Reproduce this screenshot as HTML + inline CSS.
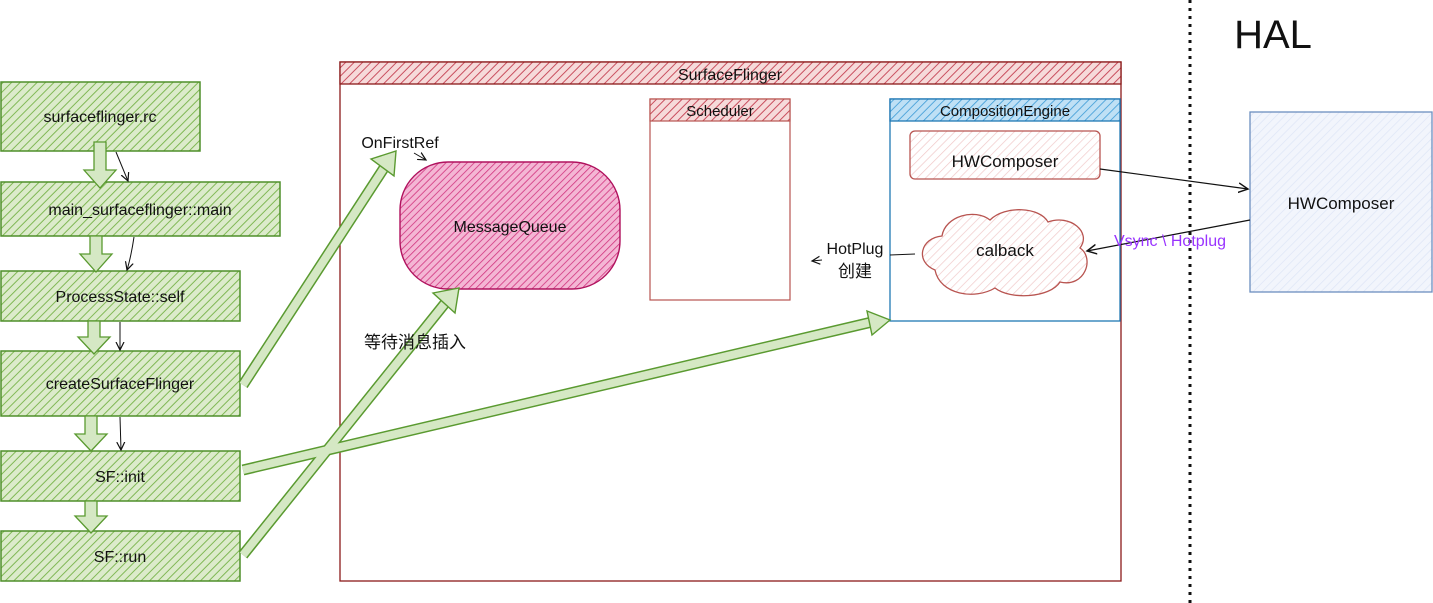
<!DOCTYPE html>
<html><head><meta charset="utf-8"><style>
body{margin:0;background:#fff;}
svg{display:block}
text{font-family:"Liberation Sans","Noto Sans CJK SC",sans-serif;fill:#111}
</style></head><body>
<svg width="1433" height="603" viewBox="0 0 1433 603" xmlns="http://www.w3.org/2000/svg">
<defs>
<pattern id="hg" width="6" height="6" patternUnits="userSpaceOnUse" patternTransform="rotate(45)"><rect width="6" height="6" fill="#dcebcb"/><line x1="0" y1="0" x2="0" y2="6" stroke="#80b855" stroke-width="2"/></pattern>
<pattern id="hr" width="6" height="6" patternUnits="userSpaceOnUse" patternTransform="rotate(45)"><rect width="6" height="6" fill="#f6dada"/><line x1="0" y1="0" x2="0" y2="6" stroke="#c94f5f" stroke-width="2"/></pattern>
<pattern id="hp" width="5" height="5" patternUnits="userSpaceOnUse" patternTransform="rotate(45)"><rect width="5" height="5" fill="#f4b6d4"/><line x1="0" y1="0" x2="0" y2="5" stroke="#d1347f" stroke-width="1.6"/></pattern>
<pattern id="hl" width="6" height="6" patternUnits="userSpaceOnUse" patternTransform="rotate(45)"><rect width="6" height="6" fill="#fff"/><line x1="0" y1="0" x2="0" y2="6" stroke="#f0c8c8" stroke-width="1.4"/></pattern>
<pattern id="hb" width="6" height="6" patternUnits="userSpaceOnUse" patternTransform="rotate(45)"><rect width="6" height="6" fill="#bfe0f5"/><line x1="0" y1="0" x2="0" y2="6" stroke="#3a9ad6" stroke-width="1.6"/></pattern>
<pattern id="hbl" width="6" height="6" patternUnits="userSpaceOnUse" patternTransform="rotate(45)"><rect width="6" height="6" fill="#f2f5fc"/><line x1="0" y1="0" x2="0" y2="6" stroke="#dde5f6" stroke-width="1.4"/></pattern>
<marker id="ah" markerWidth="10" markerHeight="10" refX="8" refY="5" orient="auto"><path d="M0,1 L8,5 L0,9" fill="none" stroke="#111" stroke-width="1.2"/></marker>
</defs>

<g stroke="#4f8f2a" stroke-width="1.5" fill="url(#hg)">
<rect x="1" y="82" width="199" height="69"/>
<rect x="1" y="182" width="279" height="54"/>
<rect x="1" y="271" width="239" height="50"/>
<rect x="1" y="351" width="239" height="65"/>
<rect x="1" y="451" width="239" height="50"/>
<rect x="1" y="531" width="239" height="50"/>
</g>
<g font-size="16" text-anchor="middle">
<text x="100" y="122">surfaceflinger.rc</text>
<text x="140" y="215">main_surfaceflinger::main</text>
<text x="120" y="302">ProcessState::self</text>
<text x="120" y="389">createSurfaceFlinger</text>
<text x="120" y="482">SF::init</text>
<text x="120" y="562">SF::run</text>
</g>
<g fill="#d5e8c4" stroke="#5a9a30" stroke-width="1.3">
<path d="M94,142 h12 v28 h10 l-16,18 l-16,-18 h10z"/>
<path d="M90,236 h12 v18 h10 l-16,18 l-16,-18 h10z"/>
<path d="M88,321 h12 v16 h10 l-16,17 l-16,-17 h10z"/>
<path d="M85,416 h12 v18 h10 l-16,17 l-16,-17 h10z"/>
<path d="M85,501 h12 v15 h10 l-16,17 l-16,-17 h10z"/>
</g>
<g stroke="#111" stroke-width="1" fill="none" marker-end="url(#ah)">
<path d="M116,152 L128,181"/>
<path d="M134,237 Q131,257 127,270"/>
<path d="M120,322 L120,350"/>
<path d="M120,417 L121,450"/>
</g>

<rect x="340" y="62" width="781" height="519" fill="#fff" stroke="#8b1a1a" stroke-width="1.3"/>
<rect x="340" y="62" width="781" height="22" fill="url(#hr)" stroke="#8b1a1a" stroke-width="1.3"/>
<text x="730" y="80" font-size="16" text-anchor="middle">SurfaceFlinger</text>

<rect x="650" y="99" width="140" height="201" fill="#fff" stroke="#b85450" stroke-width="1.2"/>
<rect x="650" y="99" width="140" height="22" fill="url(#hr)" stroke="#b85450" stroke-width="1.2"/>
<text x="720" y="116" font-size="15" text-anchor="middle">Scheduler</text>

<rect x="890" y="99" width="230" height="222" fill="#fff" stroke="#1f78b4" stroke-width="1.3"/>
<rect x="890" y="99" width="230" height="22" fill="url(#hb)" stroke="#1f78b4" stroke-width="1.3"/>
<text x="1005" y="116" font-size="15" text-anchor="middle">CompositionEngine</text>
<rect x="910" y="131" width="190" height="48" rx="5" fill="url(#hl)" stroke="#b85450" stroke-width="1.3"/>
<text x="1005" y="167" font-size="17" text-anchor="middle">HWComposer</text>
<path d="M935,270 C915,262 920,238 942,236 C945,216 975,208 990,220 C1005,205 1040,207 1048,222 C1070,214 1092,232 1080,248 C1095,258 1085,288 1060,282 C1050,298 1010,300 995,288 C975,300 940,295 935,270Z" fill="url(#hl)" stroke="#b85450" stroke-width="1.3"/>
<text x="1005" y="256" font-size="17" text-anchor="middle">calback</text>

<rect x="400" y="162" width="220" height="127" rx="48" fill="url(#hp)" stroke="#b0125e" stroke-width="1.4"/>
<text x="510" y="232" font-size="16" text-anchor="middle">MessageQueue</text>
<text x="400" y="148" font-size="16" text-anchor="middle">OnFirstRef</text>
<path d="M414,153 L426,160" stroke="#111" fill="none" marker-end="url(#ah)"/>

<text x="855" y="254" font-size="16" text-anchor="middle">HotPlug</text>
<text x="855" y="277" font-size="17" text-anchor="middle">创建</text>
<path d="M915,254 L890,255" stroke="#111" fill="none"/>
<path d="M822,260 L812,261" stroke="#111" fill="none" marker-end="url(#ah)"/>

<line x1="1190" y1="0" x2="1190" y2="603" stroke="#111" stroke-width="3" stroke-dasharray="3,5"/>
<text x="1273" y="48" font-size="40" text-anchor="middle">HAL</text>
<rect x="1250" y="112" width="182" height="180" fill="url(#hbl)" stroke="#6c8ebf" stroke-width="1.3"/>
<text x="1341" y="209" font-size="17" text-anchor="middle">HWComposer</text>
<path d="M1100,169 L1248,189" stroke="#111" stroke-width="1.2" fill="none" marker-end="url(#ah)"/>
<path d="M1250,220 L1087,251" stroke="#111" stroke-width="1.2" fill="none" marker-end="url(#ah)"/>
<text x="1170" y="246" font-size="16" text-anchor="middle" style="fill:#9933ff">Vsync \ Hotplug</text>

<g stroke="#5a9a30" stroke-width="11" fill="none">
<line x1="243" y1="385" x2="384" y2="168"/>
<line x1="243" y1="555" x2="446" y2="302"/>
<line x1="243" y1="470" x2="872" y2="322"/>
</g>
<g stroke="#d5e8c4" stroke-width="8" fill="none">
<line x1="243" y1="385" x2="384" y2="168"/>
<line x1="243" y1="555" x2="446" y2="302"/>
<line x1="243" y1="470" x2="872" y2="322"/>
</g>
<g fill="#d5e8c4" stroke="#5a9a30" stroke-width="1.4">
<path d="M371,159 L396,151 L394,176Z"/>
<path d="M433,293 L459,288 L455,313Z"/>
<path d="M867,311 L890,320 L872,335Z"/>
</g>
<text x="415" y="348" font-size="17" text-anchor="middle">等待消息插入</text>
</svg>
</body></html>
